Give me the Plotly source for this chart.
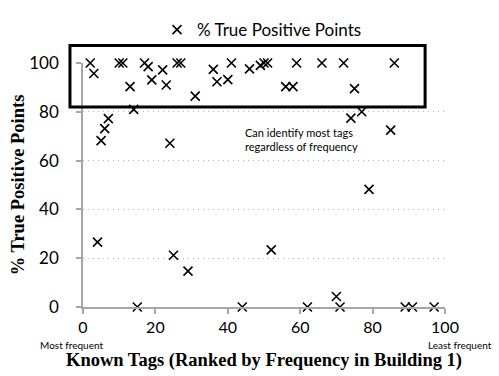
import plotly.graph_objects as go

# Rank of each known tag (1 = most frequent) and its share of true positive points
tag_rank = [2, 3, 4, 5, 6, 7, 10, 11, 13, 14, 15, 17, 18, 19, 22, 23, 24, 25, 26, 27,
            29, 31, 36, 37, 40, 41, 44, 46, 49, 50, 51, 52, 56, 58, 59, 62, 66, 70, 71,
            72, 74, 75, 77, 79, 85, 86, 89, 91, 97]
true_positive_pct = [100, 95.7, 26.6, 68.2, 73.1, 77.2, 100, 100, 90.3, 81.0, 0, 100, 98.5,
                     93.1, 97.2, 91.0, 67.1, 21.2, 100, 100, 14.7, 86.4, 97.4, 92.3, 93.2,
                     100, 0, 97.6, 99.0, 100, 100, 23.4, 90.3, 90.3, 100, 0, 100, 4.3, 0,
                     100, 77.4, 89.5, 80.0, 48.2, 72.5, 100, 0, 0, 0]

x_ticks = [0, 20, 40, 60, 80, 100]
y_ticks = [0, 20, 40, 60, 80, 100]

X_RANGE = [0, 100]
Y_RANGE = [0, 100]

# Highlight box around the high-accuracy band (data units, may extend past the axes)
BOX = dict(x0=-3.6, x1=94.5, y0=82.0, y1=107.2)


def to_paper_x(v):
    return (v - X_RANGE[0]) / (X_RANGE[1] - X_RANGE[0])


def to_paper_y(v):
    return (v - Y_RANGE[0]) / (Y_RANGE[1] - Y_RANGE[0])


SANS = "Lato, 'Open Sans', sans-serif"
SERIF = "'Liberation Serif', 'DejaVu Serif', serif"

fig = go.Figure()
fig.add_trace(go.Scatter(
    x=tag_rank,
    y=true_positive_pct,
    mode="markers",
    name="% True Positive Points",
    marker=dict(symbol="x-thin", size=9, color="black",
                line=dict(color="black", width=1.6)),
    cliponaxis=False,
))

fig.add_shape(
    type="rect", xref="paper", yref="paper",
    x0=to_paper_x(BOX["x0"]), x1=to_paper_x(BOX["x1"]),
    y0=to_paper_y(BOX["y0"]), y1=to_paper_y(BOX["y1"]),
    line=dict(color="black", width=3), fillcolor="rgba(0,0,0,0)",
)

fig.add_annotation(
    text="Can identify most tags<br>regardless of frequency",
    x=44.2, y=68.6, xref="x", yref="y", xanchor="left", yanchor="middle",
    align="left", showarrow=False, font=dict(family=SANS, size=11, color="black"),
)
fig.add_annotation(
    text="Most frequent", x=to_paper_x(-3.1), y=-0.155, xref="paper", yref="paper",
    xanchor="center", yanchor="middle", showarrow=False,
    font=dict(family=SANS, size=10, color="black"),
)
fig.add_annotation(
    text="Least frequent", x=to_paper_x(104.2), y=-0.155, xref="paper", yref="paper",
    xanchor="center", yanchor="middle", showarrow=False,
    font=dict(family=SANS, size=10, color="black"),
)

axis_common = dict(
    showline=True, linecolor="#a6a6a6", linewidth=1.5,
    ticks="outside", ticklen=5, tickcolor="#a6a6a6", tickwidth=1.5,
    zeroline=False, automargin=False,
)

fig.update_xaxes(
    range=X_RANGE, tickvals=x_ticks, showgrid=False,
    tickfont=dict(family=SANS, size=16, color="black"),
    title=dict(text="<b>Known Tags (Ranked by Frequency in Building 1)</b>",
               font=dict(family=SERIF, size=18.5, color="black"), standoff=18),
    **axis_common,
)
fig.update_yaxes(
    range=Y_RANGE, tickvals=y_ticks, showgrid=True, gridcolor="#b3b3b3",
    griddash="1px,4px", gridwidth=1, ticklabelstandoff=14,
    tickfont=dict(family=SANS, size=17, color="black"),
    title=dict(text="<b>% True Positive Points</b>",
               font=dict(family=SERIF, size=18.5, color="black"), standoff=0),
    **axis_common,
)

fig.update_layout(
    width=499, height=376,
    margin=dict(l=83, r=54, t=49, b=69),
    paper_bgcolor="white", plot_bgcolor="white",
    showlegend=True,
    legend=dict(orientation="h", x=0.5 - 2 / 362, y=1.135, xanchor="center",
                yanchor="middle",
                font=dict(family=SANS, size=17, color="black"),
                bgcolor="rgba(0,0,0,0)", itemwidth=30),
)

fig.write_html("out.html")
